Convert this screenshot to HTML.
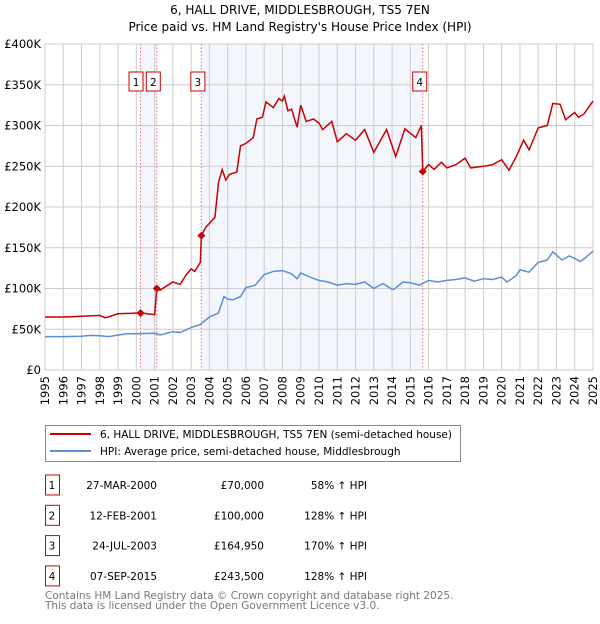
<!DOCTYPE html>
<html><head><meta charset="utf-8"><style>
body{margin:0;background:#fff;font-family:"DejaVu Sans","Liberation Sans",sans-serif;}
svg text{font-family:"DejaVu Sans","Liberation Sans",sans-serif;}
</style></head><body>
<svg id="c" width="600" height="620" xmlns="http://www.w3.org/2000/svg">
<text x="300" y="14" text-anchor="middle" font-size="12">6, HALL DRIVE, MIDDLESBROUGH, TS5 7EN</text>
<text x="300" y="31" text-anchor="middle" font-size="12">Price paid vs. HM Land Registry's House Price Index (HPI)</text>
<g id="plot"></g>
<g>
<rect x="45.5" y="425.5" width="415" height="36" fill="#fff" stroke="#888"/>
<line x1="50" y1="434" x2="91" y2="434" stroke="#cc0000" stroke-width="2"/>
<text x="100" y="438" font-size="10.5">6, HALL DRIVE, MIDDLESBROUGH, TS5 7EN (semi-detached house)</text>
<line x1="50" y1="451" x2="91" y2="451" stroke="#5b8fd4" stroke-width="2"/>
<text x="100" y="455" font-size="10.5">HPI: Average price, semi-detached house, Middlesbrough</text>
</g>
<g id="table" font-size="10.5"></g>
<text x="45" y="599" font-size="10.5" fill="#777">Contains HM Land Registry data © Crown copyright and database right 2025.</text>
<text x="45" y="609" font-size="10.5" fill="#777">This data is licensed under the Open Government Licence v3.0.</text>
</svg>
<script>
const yTicks=[0,50,100,150,200,250,300,350,400];
const yTickLabels=["£0","£50K","£100K","£150K","£200K","£250K","£300K","£350K","£400K"];
const years=[1995,1996,1997,1998,1999,2000,2001,2002,2003,2004,2005,2006,2007,2008,2009,2010,2011,2012,2013,2014,2015,2016,2017,2018,2019,2020,2021,2022,2023,2024,2025];
const hpiT=[1995,1996,1997,1997.5,1998,1998.5,1999,1999.5,2000,2001,2001.3,2002,2002.4,2003,2003.5,2004,2004.5,2004.8,2005,2005.3,2005.7,2006,2006.5,2007,2007.5,2008,2008.5,2008.8,2009,2009.5,2010,2010.5,2011,2011.5,2012,2012.5,2013,2013.5,2014,2014.1,2014.6,2015,2015.5,2016,2016.5,2017,2017.5,2018,2018.5,2019,2019.5,2020,2020.3,2020.8,2021,2021.5,2022,2022.5,2022.8,2023.3,2023.7,2024,2024.3,2024.6,2025];
const hpiV=[41,41,41.5,42.5,42,41,43,44.5,44.5,45,43,47,46,52,56,65,70,90,87,86,90,101,104,117,121,122,118,112,119,114,110,108,104,106,105,108,100,106,99,99,108,107,104,110,108,110,111,113,109,112,111,114,108,116,123,120,132,135,145,135,140,137,133,138,146];
const redT=[1995,1996,1997,1998,1998.3,1999,2000.23,2001.0,2001.12,2001.3,2002,2002.4,2002.7,2003.0,2003.2,2003.5,2003.56,2003.8,2004.2,2004.3,2004.5,2004.7,2004.9,2005.1,2005.5,2005.7,2006.0,2006.4,2006.6,2006.9,2007.1,2007.5,2007.8,2008.0,2008.1,2008.3,2008.5,2008.8,2009.0,2009.3,2009.7,2010.0,2010.2,2010.7,2011.0,2011.5,2012.0,2012.5,2013.0,2013.7,2014.2,2014.7,2015.3,2015.6,2015.68,2016.0,2016.3,2016.7,2017.0,2017.5,2018.0,2018.3,2019.0,2019.5,2020.0,2020.4,2020.8,2021.2,2021.5,2022.0,2022.5,2022.8,2023.2,2023.5,2024.0,2024.2,2024.5,2025.0];
const redV=[65,65,66,67,64,69,70,68,100,98,108,105,116,124,121,132,165,175,185,187,230,246,233,240,243,275,278,285,308,310,329,322,333,330,336,318,320,298,325,305,308,303,295,305,280,290,282,295,267,295,262,296,285,300,243.5,252,246,255,248,252,260,248,250,252,258,245,262,282,270,297,300,327,326,307,316,310,314,330];
const saleT=[2000.23,2001.12,2003.56,2015.68];
const saleV=[70,100,164.95,243.5];
const saleDates=["27-MAR-2000","12-FEB-2001","24-JUL-2003","07-SEP-2015"];
const salePrices=["£70,000","£100,000","£164,950","£243,500"];
const saleHpi=["58% ↑ HPI","128% ↑ HPI","170% ↑ HPI","128% ↑ HPI"];

const NS="http://www.w3.org/2000/svg";
const X0=45,X1=593,Y0=370,Y1=44;
const xs=t=>X0+(t-1995)/30*(X1-X0);
const ys=v=>Y0-v/400*(Y0-Y1);
const plot=document.getElementById('plot');
function mk(tag,attrs,parent){const e=document.createElementNS(NS,tag);for(const k in attrs)e.setAttribute(k,attrs[k]);(parent||plot).appendChild(e);return e;}
let s1=mk('rect',{x:xs(saleT[0]),y:Y1,width:xs(saleT[1])-xs(saleT[0]),height:Y0-Y1,fill:'#f3f6fd'});


let s2=mk('rect',{x:xs(saleT[2]),y:Y1,width:xs(saleT[3])-xs(saleT[2]),height:Y0-Y1,fill:'#f3f6fd'});


yTicks.forEach((v,i)=>{
 let l=mk('line',{x1:X0,x2:X1,y1:ys(v),y2:ys(v),stroke:'#cccccc'});
 
 
 let t=mk('text',{x:X0-4,y:ys(v)+4,'text-anchor':'end','font-size':'11.5'});
 t.textContent=yTickLabels[i];
 
 
});
years.forEach(y=>{
 let l=mk('line',{x1:xs(y),x2:xs(y),y1:Y1,y2:Y0,stroke:'#cccccc'});
 
 
 let t=mk('text',{x:0,y:0,'font-size':'11.5','text-anchor':'end',transform:`translate(${xs(y)+4},${Y0+6}) rotate(-90)`});
 t.textContent=y;
 
 
});
let fr=mk('rect',{x:X0,y:Y1,width:X1-X0,height:Y0-Y1,fill:'none',stroke:'#cccccc'});


saleT.forEach((t,i)=>{
 let l=mk('line',{x1:xs(t),x2:xs(t),y1:Y1,y2:Y0,stroke:'#f07070','stroke-dasharray':'1.5,2','stroke-width':1});
 
 
});
function path(T,V,col,name){
 let d=T.map((t,i)=>(i?'L':'M')+xs(t).toFixed(1)+','+ys(V[i]).toFixed(1)).join('');
 let p=mk('path',{d:d,fill:'none',stroke:col,'stroke-width':1.5});
 
 
}
path(hpiT,hpiV,'#5b8fd4','hpi-line');
path(redT,redV,'#cc0000','property-price-line');
const boxOff=[-4.5,-3.5,-3.5,-3];
saleT.forEach((t,i)=>{
 let x=xs(t),y=ys(saleV[i]);
 let p=mk('path',{d:`M${x},${y-4}L${x+4},${y}L${x},${y+4}L${x-4},${y}Z`,fill:'#cc0000'});
 
 
 let lx=xs(t)+boxOff[i];
 let r=mk('rect',{x:lx-7,y:72,width:14,height:19,fill:'#fff',stroke:'#cc0000'});
 
 
 let tx=mk('text',{x:lx,y:86,'text-anchor':'middle','font-size':'10.5'});
 tx.textContent=i+1;
 
 
});
const tb=document.getElementById('table');
saleDates.forEach((d,i)=>{
 const yy=475+i*30.3;
 let r=mk('rect',{x:45.5,y:yy,width:14,height:20,fill:'#fff',stroke:'#cc0000'},tb);
 
 
 const cells=[[52,''+(i+1),'middle'],[157,d,'end'],[264,salePrices[i],'end'],[367,saleHpi[i],'end']];
 cells.forEach(c=>{
  let t=mk('text',{x:c[0],y:yy+14,'text-anchor':c[2]},tb);
  t.textContent=c[1];
  
  
 });
});
</script>
</body></html>
